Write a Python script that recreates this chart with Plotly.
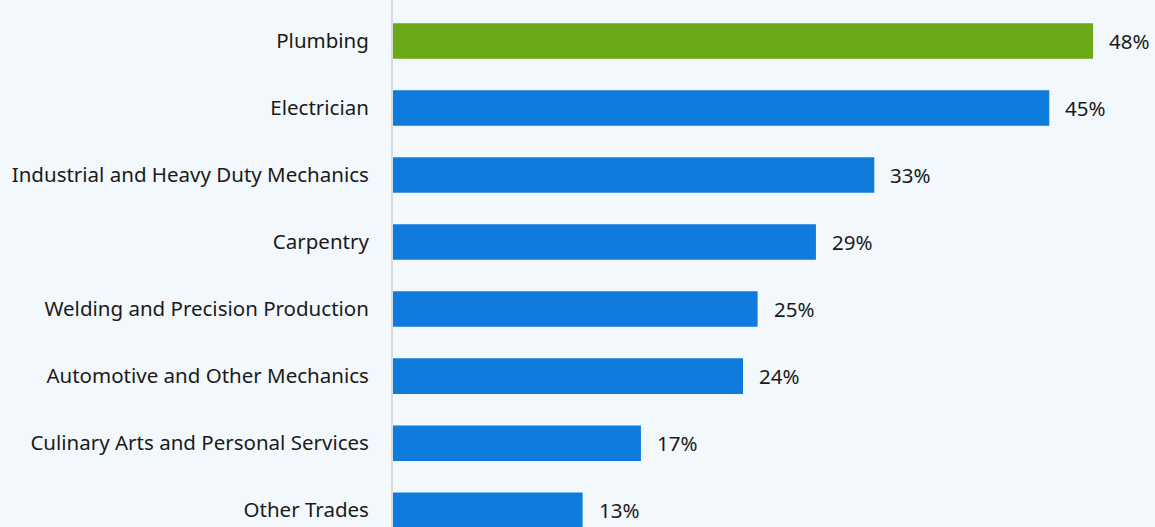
import plotly.graph_objects as go

categories = [
    "Plumbing",
    "Electrician",
    "Industrial and Heavy Duty Mechanics",
    "Carpentry",
    "Welding and Precision Production",
    "Automotive and Other Mechanics",
    "Culinary Arts and Personal Services",
    "Other Trades",
]
values = [48, 45, 33, 29, 25, 24, 17, 13]
highlight = "Plumbing"

GREEN = "#69a817"
BLUE = "#0f7bdd"
BG = "#f3f8fc"
FONT = "Noto Sans"
SIZE = 20.5

colors = [GREEN if c == highlight else BLUE for c in categories]

fig = go.Figure(
    go.Bar(
        x=values,
        y=categories,
        orientation="h",
        marker=dict(color=colors, line=dict(width=0)),
        width=0.53,
        hoverinfo="skip",
    )
)

# value labels to the right of each bar
for c, v in zip(categories, values):
    fig.add_annotation(
        x=v, y=c, text=f"{v}%", showarrow=False,
        xanchor="left", xshift=14, yanchor="middle",
        font=dict(family=FONT, size=SIZE, color="#1a1a1a"),
    )

fig.update_layout(
    width=1155,
    height=527,
    margin=dict(l=393, r=0, t=0, b=0),
    paper_bgcolor=BG,
    plot_bgcolor=BG,
    showlegend=False,
    font=dict(family=FONT, size=SIZE, color="#1a1a1a"),
)
fig.update_xaxes(
    range=[0, 52.25], visible=False, showgrid=False, zeroline=False,
)
fig.update_yaxes(
    type="category",
    range=[7.25, -0.61],
    showgrid=False,
    zeroline=False,
    showline=True,
    linecolor="#d9dcdf",
    linewidth=2,
    ticks="",
    ticklabelstandoff=18,
    tickfont=dict(family=FONT, size=SIZE, color="#1a1a1a"),
)

fig.write_html("out.html")
